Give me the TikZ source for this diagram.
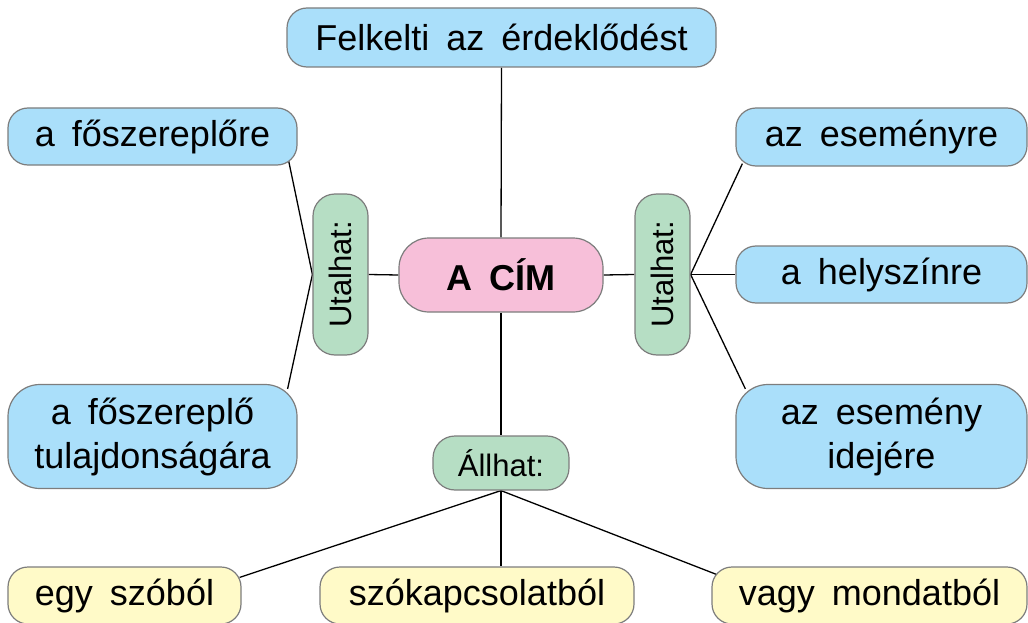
\documentclass[tikz,border=0pt]{standalone}
\usepackage{fontspec}
\setmainfont{Liberation Sans}
\usetikzlibrary{backgrounds}
\definecolor{bluebox}{RGB}{170,223,250}
\definecolor{pinkbox}{RGB}{247,191,217}
\definecolor{greenbox}{RGB}{182,222,196}
\definecolor{yellowbox}{RGB}{255,250,200}
\definecolor{edgegray}{RGB}{125,125,125}
\tikzset{
  box/.style={draw=edgegray, line width=1.2pt, rectangle, inner sep=0pt, align=center,
    font={\fontsize{36}{44}\selectfont\spaceskip=17pt\relax}},
  bluenode/.style={box, fill=bluebox},
  yellownode/.style={box, fill=yellowbox, rounded corners=20pt},
  greennode/.style={box, fill=greenbox, font={\fontsize{31}{36}\selectfont}},
  conn/.style={draw=black, line width=1.3pt}
}
\begin{document}
\begin{tikzpicture}[x=1pt,y=-1pt]
\useasboundingbox (0,0) rectangle (1028,623);
% main boxes
\node[bluenode, rounded corners=20pt, minimum width=429pt, minimum height=59pt] (felk) at (501.5,37.5) {Felkelti az érdeklődést};
\node[bluenode, rounded corners=20pt, minimum width=289pt, minimum height=57pt] (fo) at (152.5,136.5) {a főszereplőre};
\node[bluenode, rounded corners=32pt, minimum width=289pt, minimum height=104pt] (tul) at (152.5,436.5) {a főszereplő\\tulajdonságára};
\node[bluenode, rounded corners=20pt, minimum width=291pt, minimum height=58pt] (esem) at (881.5,137) {az eseményre};
\node[bluenode, rounded corners=20pt, minimum width=291pt, minimum height=57pt] (hely) at (881.5,274.5) {a helyszínre};
\node[bluenode, rounded corners=32pt, minimum width=291pt, minimum height=104pt] (ido) at (881.5,436.5) {az esemény\\idejére};
\node[box, fill=pinkbox, rounded corners=30pt, minimum width=204pt, minimum height=74pt, font={\fontsize{36}{44}\selectfont\bfseries\spaceskip=17pt\relax}] (cim) at (501,275) {A CÍM};
\node[greennode, rounded corners=22pt, minimum width=161pt, minimum height=55pt, rotate=90] (uL) at (340.5,274.5) {Utalhat:};
\node[greennode, rounded corners=22pt, minimum width=161pt, minimum height=55pt, rotate=90] (uR) at (662.5,274.5) {Utalhat:};
\node[greennode, rounded corners=22pt, minimum width=136pt, minimum height=54pt] (all) at (501,463) {Állhat:};
\node[yellownode, minimum width=233pt, minimum height=57pt] (egy) at (124.5,595.5) {egy szóból};
\node[yellownode, minimum width=314pt, minimum height=57pt] (szok) at (477,595.5) {szókapcsolatból};
\node[yellownode, minimum width=315pt, minimum height=57pt] (vagy) at (869.5,595.5) {vagy mondatból};
% connectors
\begin{scope}[on background layer]
\draw[conn] (felk.south) -- (cim.north);
\draw[conn] (cim.south) -- (all.north);
\draw[conn] (uL.south) -- (cim.west);
\draw[conn] (cim.east) -- (uR.north);
\draw[conn] ([shift={(-9,-5)}]fo.south east) -- (uL.north) -- ([shift={(-10,5)}]tul.north east);
\draw[conn] ([shift={(7,-3)}]esem.south west) -- (uR.south) -- ([shift={(10,5)}]ido.north west);
\draw[conn] (uR.south) -- (hely.west);
\draw[conn] ([shift={(-2,11)}]egy.north east) -- (all.south) -- ([shift={(5,8)}]vagy.north west);
\draw[conn] (all.south) -- (all.south |- szok.north);
\end{scope}
\end{tikzpicture}
\end{document}
